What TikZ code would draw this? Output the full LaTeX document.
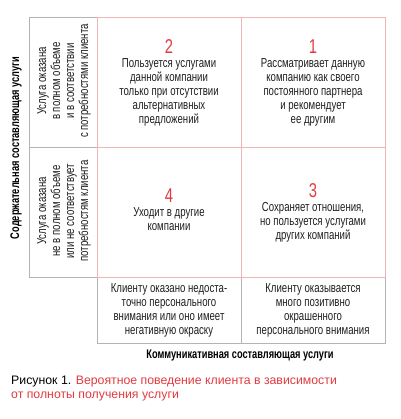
\documentclass[tikz,border=0pt]{standalone}
\usepackage{fontspec}
\setmainfont{Liberation Sans}[FakeStretch=0.74]
\newfontfamily\capfont{Liberation Sans}
\definecolor{txtgray}{HTML}{1E1E1E}
\definecolor{gridred}{HTML}{F2B4B8}
\definecolor{boxgray}{HTML}{B4B4B4}
\definecolor{numred}{HTML}{E23A40}
\newcommand{\qnum}[1]{{\fontsize{20}{14}\selectfont\color{numred}#1}}

\begin{document}
\begin{tikzpicture}[x=1pt, y=-1pt, every node/.style={font=\fontsize{13}{14}\selectfont, text=txtgray, align=center, inner sep=0pt}]
	\useasboundingbox (0,0) rectangle (400,419);
	\draw[boxgray] (29,17) rectangle (97,277);
	\draw[boxgray] (29,147) -- (97,147);
	\draw[boxgray] (97,277) rectangle (385,343);
	\draw[boxgray] (241,277) -- (241,343);
	\draw[gridred] (97,17) rectangle (385,277);
	\draw[gridred] (241,17) -- (241,277);
	\draw[gridred] (97,147) -- (385,147);
	\node[rotate=90] (full) at (64,81) {Услуга оказана\\в полном объеме\\и в соответствии\\с потребностями клиента};
	\node[rotate=90] (part) at (64,211) {Услуга оказана\\не в полном объеме\\или не соответствует\\потребностям клиента};
	\node (q2) at (169,83) {\qnum{2}\\Пользуется услугами\\данной компании\\только при отсутствии\\альтернативных\\предложений};
	\node (q1) at (313,83) {\qnum{1}\\Рассматривает данную\\компанию как своего\\постоянного партнера\\и рекомендует\\ее другим};
	\node (q4) at (169,210) {\qnum{4}\\Уходит в другие\\компании};
	\node (q3) at (313,213) {\qnum{3}\\Сохраняет отношения,\\но пользуется услугами\\других компаний};
	\node (low) at (169,310) {Клиенту оказано недоста-\\точно персонального\\внимания или оно имеет\\негативную окраску};
	\node (high) at (313,310) {Клиенту оказывается\\много позитивно\\окрашенного\\персонального внимания};
	\node[rotate=90, font=\fontsize{12.5}{14}\selectfont\bfseries, text=black] (yaxis) at (16,148) {Содержательная составляющая услуги};
	\node[font=\fontsize{12.5}{14}\selectfont\bfseries, text=black] (xaxis) at (240,355) {Коммуникативная составляющая услуги};
	\node[anchor=north west, align=left, font=\capfont\fontsize{12.3}{13.5}\selectfont, text=black] (caption) at (11,376) {Рисунок 1. \textcolor{numred}{Вероятное поведение клиента в зависимости}\\\textcolor{numred}{от полноты получения услуги}};
\end{tikzpicture}
\end{document}
